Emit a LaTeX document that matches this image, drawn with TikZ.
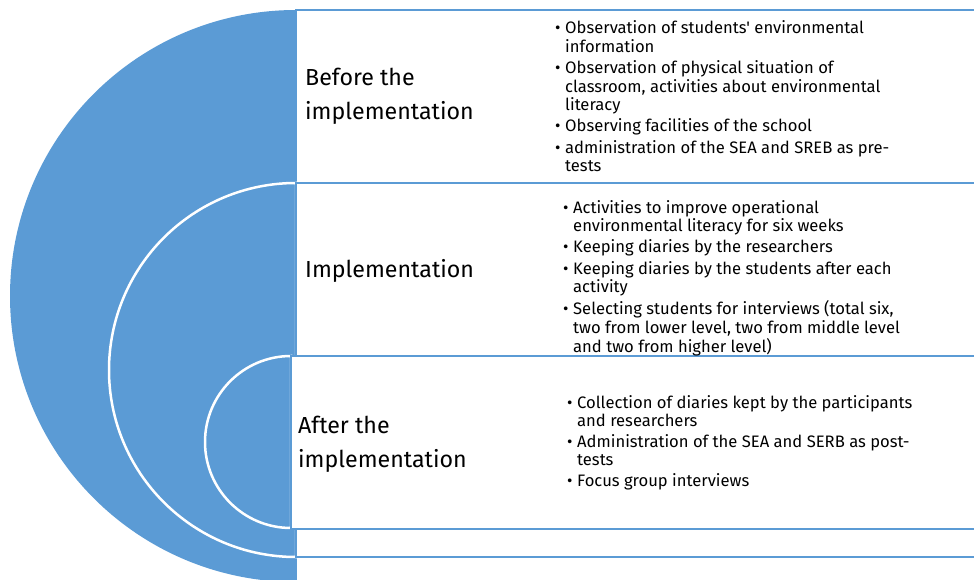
\documentclass[tikz,border=0pt]{standalone}
\usepackage{fontspec}
\setmainfont{Fira Sans}[Ligatures=TeXOff]
\definecolor{tblue}{HTML}{5B9BD5}
\newcommand\bul{\makebox[10pt][l]{•}}
\begin{document}
\begin{tikzpicture}[x=1pt,y=-1pt,
  halfdisc/.style={fill=tblue, draw=white, line width=2.5pt},
  panel/.style={fill=white, draw=tblue, line width=2.5pt},
  stage/.style={anchor=base west, inner sep=0pt, font=\fontsize{23.2}{34}\selectfont},
  items/.style={anchor=base west, inner sep=0pt, font=\fontsize{16.6}{18}\selectfont}]
\useasboundingbox (0,0) rectangle (974,580);
\clip (0,0) rectangle (974,580);

% outer ring and its panel
\path[halfdisc, draw=none] (296,582) arc[start angle=90, end angle=270, radius=286] -- cycle;
\draw[panel] (296,10) rectangle (1000,610);
% middle ring and its panel
\path[halfdisc] (296,557) arc[start angle=90, end angle=270, radius=187] -- cycle;
\draw[panel] (296,183) rectangle (1000,557);
% inner ring and its panel
\path[halfdisc] (291,528) arc[start angle=90, end angle=270, radius=86] -- cycle;
\draw[panel] (291,356) rectangle (1000,529);

% stage names
\node[stage] (before) at (305,86) {\begin{tabular}[t]{@{}l@{}}Before the\\implementation\end{tabular}};
\node[stage] (during) at (305,277) {Implementation};
\node[stage] (after) at (298,433) {\begin{tabular}[t]{@{}l@{}}After the\\implementation\end{tabular}};

% activities of each stage
\node[items] (prelist) at (555,34) {\begin{tabular}[t]{@{}l@{}l@{}}
\bul & Observation of students' environmental\\
     & information\\[3pt]
\bul & Observation of physical situation of\\
     & classroom, activities about environmental\\
     & literacy\\[3pt]
\bul & Observing facilities of the school\\[3pt]
\bul & administration of the SEA and SREB as pre-\\
     & tests
\end{tabular}};

\node[items] (duringlist) at (563,213) {\begin{tabular}[t]{@{}l@{}l@{}}
\bul & Activities to improve operational\\
     & environmental literacy for six weeks\\[3pt]
\bul & Keeping diaries by the researchers\\[3pt]
\bul & Keeping diaries by the students after each\\
     & activity\\[3pt]
\bul & Selecting students for interviews (total six,\\
     & two from lower level, two from middle level\\
     & and two from higher level)
\end{tabular}};

\node[items] (postlist) at (567,408) {\begin{tabular}[t]{@{}l@{}l@{}}
\bul & Collection of diaries kept by the participants\\
     & and researchers\\[3pt]
\bul & Administration of the SEA and SERB as post-\\
     & tests\\[3pt]
\bul & Focus group interviews
\end{tabular}};
\end{tikzpicture}
\end{document}
